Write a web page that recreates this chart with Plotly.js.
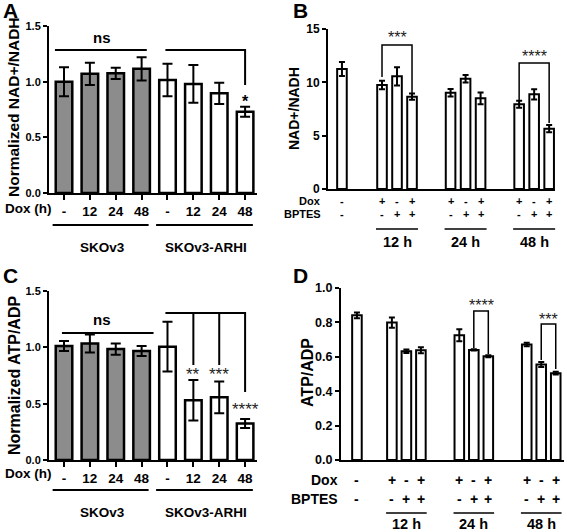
<!DOCTYPE html>
<html><head><meta charset="utf-8">
<script src="https://cdn.plot.ly/plotly-3.0.1.min.js"></script>
<style>html,body{margin:0;padding:0;background:#fff}#chart{width:567px;height:532px}</style>
</head><body><div id="chart"></div>
<script>
// ---------------- data ----------------
const doxHoursLabels = ['-', '12', '24', '48'];
const cellLines = ['SKOv3', 'SKOv3-ARHI'];
const nadSKOv3 = [1.00, 1.07, 1.075, 1.115];
const nadSKOv3Err = [0.13, 0.10, 0.05, 0.105];
const nadARHI = [1.015, 0.98, 0.895, 0.73];
const nadARHIErr = [0.145, 0.17, 0.095, 0.045];
const atpSKOv3 = [1.012, 1.035, 0.985, 0.967];
const atpSKOv3Err = [0.045, 0.08, 0.05, 0.045];
const atpARHI = [1.006, 0.53, 0.556, 0.325];
const atpARHIErr = [0.22, 0.18, 0.14, 0.04];

const doxRow = ['-', '+', '-', '+', '+', '-', '+', '+', '-', '+'];
const bptesRow = ['-', '-', '+', '+', '-', '+', '+', '-', '+', '+'];
const timeLabels = ['12 h', '24 h', '48 h'];
const nadBPTES = [11.25, 9.75, 10.56, 8.66, 9.03, 10.34, 8.5, 7.94, 8.875, 5.66];
const nadBPTESErr = [0.65, 0.4, 0.85, 0.3, 0.35, 0.35, 0.55, 0.33, 0.48, 0.34];
const atpBPTES = [0.841, 0.799, 0.632, 0.638, 0.725, 0.640, 0.603, 0.671, 0.555, 0.505];
const atpBPTESErr = [0.017, 0.03, 0.01, 0.017, 0.035, 0.004, 0.006, 0.01, 0.015, 0.008];

const sigA = ['ns', '*'];
const sigB = ['***', '****'];
const sigC = ['ns', '**', '***', '****'];
const sigD = ['****', '***'];

// ---------------- layout helpers ----------------
const W = 567, H = 532;
const PX = p => p / W, PY = p => 1 - p / H;
const FONT = 'Liberation Sans, Arial, Helvetica, sans-serif';
const panels = {
  A: {xa: 'x',  ya: 'y',  x: [49, 257],  y: [26, 193],  xr: [-0.58, 7.46], yr: [0, 1.5]},
  B: {xa: 'x2', ya: 'y2', x: [328, 555], y: [29, 189],  xr: [-0.93, 14.2], yr: [0, 15]},
  C: {xa: 'x3', ya: 'y3', x: [49, 257],  y: [291, 460], xr: [-0.58, 7.46], yr: [0, 1.5]},
  D: {xa: 'x4', ya: 'y4', x: [341, 564], y: [288, 460], xr: [-1.1, 14.28], yr: [0, 1]}
};
function xPaper(p, v) { const P = panels[p]; return PX(P.x[0] + (v - P.xr[0]) / (P.xr[1] - P.xr[0]) * (P.x[1] - P.x[0])); }
function yData(p, py) { const P = panels[p]; return P.yr[0] + (P.y[1] - py) / (P.y[1] - P.y[0]) * (P.yr[1] - P.yr[0]); }

// positions: A/C groups of 4 consecutive slots
const posSK = doxHoursLabels.map((_, i) => i);
const posARHI = doxHoursLabels.map((_, i) => i + doxHoursLabels.length);
// B/D: control bar then 3 groups of 3 with gaps
function groupPositions(firstGap, step) {
  const out = [0];
  timeLabels.forEach((_, g) => { for (let i = 0; i < 3; i++) out.push(firstGap + g * step + i); });
  return out;
}
const posB = groupPositions(2.67, 4.57);
const posD = groupPositions(2.41, 4.65);

// ---------------- traces ----------------
function barTrace(p, x, y, err, fill, width, lw, cap) {
  return {
    type: 'bar', x: x, y: y, xaxis: panels[p].xa, yaxis: panels[p].ya, width: width,
    marker: {color: fill, line: {color: '#000', width: lw}},
    error_y: {type: 'data', array: err, visible: true, color: '#000', thickness: 2, width: cap},
    showlegend: false, hoverinfo: 'skip'
  };
}
const GRAY = '#8c8c8c';
const traces = [
  barTrace('A', posSK, nadSKOv3, nadSKOv3Err, GRAY, 0.64, 2.5, 5),
  barTrace('A', posARHI, nadARHI, nadARHIErr, '#ffffff', 0.64, 2.5, 5),
  barTrace('B', posB, nadBPTES, nadBPTESErr, '#ffffff', 0.64, 2, 3),
  barTrace('C', posSK, atpSKOv3, atpSKOv3Err, GRAY, 0.64, 2.5, 5),
  barTrace('C', posARHI, atpARHI, atpARHIErr, '#ffffff', 0.64, 2.5, 5),
  barTrace('D', posD, atpBPTES, atpBPTESErr, '#ffffff', 0.66, 2, 3)
];

// ---------------- axes ----------------
const allPos = posSK.concat(posARHI);
const allDox = doxHoursLabels.concat(doxHoursLabels);
function xAxis(p, withTicks) {
  const P = panels[p];
  const ax = {
    domain: [PX(P.x[0]), PX(P.x[1])], range: P.xr, anchor: P.ya,
    showline: true, linecolor: '#000', linewidth: 2, showgrid: false, zeroline: false, fixedrange: true
  };
  if (withTicks) {
    Object.assign(ax, {tickmode: 'array', tickvals: allPos, ticktext: allDox, ticks: 'outside', ticklen: 5,
      tickwidth: 2, tickcolor: '#000', ticklabelstandoff: 0,
      tickfont: {family: FONT, size: 13.5, color: '#000', weight: 'bold'}});
  } else {
    Object.assign(ax, {ticks: '', showticklabels: false});
  }
  return ax;
}
function yAxis(p, dtick, fmt, fsize) {
  const P = panels[p];
  return {
    domain: [PY(P.y[1]), PY(P.y[0])], range: P.yr, anchor: P.xa, dtick: dtick, tick0: 0, tickformat: fmt,
    showline: true, linecolor: '#000', linewidth: 2, ticks: 'outside', ticklen: 4, tickwidth: 2, tickcolor: '#000',
    showgrid: false, zeroline: false, fixedrange: true,
    tickfont: {family: FONT, size: fsize, color: '#000', weight: 'bold'}
  };
}

// ---------------- annotations ----------------
const annotations = [];
function ann(text, xref, x, ypx, size, o) {
  o = o || {};
  annotations.push(Object.assign({
    text: text, xref: xref, x: x, yref: 'paper', y: PY(ypx), showarrow: false,
    xanchor: 'center', yanchor: 'middle',
    font: {family: FONT, size: size, color: o.color || '#000', weight: o.weight || 'bold'}
  }, o.extra || {}));
}
// panel letters
ann('A', 'paper', PX(1), 10, 21, {extra: {xanchor: 'left'}});
ann('B', 'paper', PX(291), 11, 21, {extra: {xanchor: 'left'}});
ann('C', 'paper', PX(1), 275, 21, {extra: {xanchor: 'left'}});
ann('D', 'paper', PX(291), 275, 21, {extra: {xanchor: 'left'}});
// y titles
ann('Normalized NAD+/NADH', 'paper', PX(14), 107, 15.5, {extra: {textangle: -90}});
ann('NAD+/NADH', 'paper', PX(294), 109, 14, {extra: {textangle: -90}});
ann('Normalized ATP/ADP', 'paper', PX(14), 376, 16, {extra: {textangle: -90}});
ann('ATP/ADP', 'paper', PX(307), 373, 16, {extra: {textangle: -90}});

// A / C row labels and group labels
[['A', 208, 247], ['C', 473, 512]].forEach(([p, rowY, grpY]) => {
  ann('Dox (h)', 'paper', PX(28), rowY, 13.5);
  [posSK, posARHI].forEach((pos, g) => {
    const mid = (pos[0] + pos[pos.length - 1]) / 2;
    ann(cellLines[g], panels[p].xa, mid, grpY, 13.5);
  });
});

// B / D treatment rows
[['B', posB, 201, 214, 242, 323, 11, 14.5], ['D', posD, 480, 499, 524, 340, 14, 14.5]].forEach(
  ([p, pos, doxY, bY, tY, labelRight, fs, tfs]) => {
    ann('Dox', 'paper', PX(labelRight), doxY, fs, {extra: {xanchor: 'right'}});
    ann('BPTES', 'paper', PX(labelRight), bY, fs, {extra: {xanchor: 'right'}});
    pos.forEach((x, i) => {
      ann(doxRow[i], panels[p].xa, x, doxY, fs);
      ann(bptesRow[i], panels[p].xa, x, bY, fs);
    });
    timeLabels.forEach((t, g) => ann(t, panels[p].xa, pos[1 + g * 3 + 1], tY, tfs));
  });

// significance labels
ann(sigA[0], 'x', 1.46, 37, 15);
ann(sigA[1], 'x', posARHI[3], 101, 16);
ann(sigB[0], 'x2', posB[2], 38, 16, {weight: 'normal', color: '#222'});
ann(sigB[1], 'x2', (posB[7] + posB[9]) / 2, 56, 16, {weight: 'normal', color: '#222'});
ann(sigC[0], 'x3', 1.46, 319, 15);
ann(sigC[1], 'x3', posARHI[1], 374, 17, {weight: 'normal', color: '#222'});
ann(sigC[2], 'x3', posARHI[2], 374, 17, {weight: 'normal', color: '#222'});
ann(sigC[3], 'x3', posARHI[3], 409, 17, {weight: 'normal', color: '#222'});
ann(sigD[0], 'x4', (posD[5] + posD[6]) / 2, 305, 16, {weight: 'normal', color: '#222'});
ann(sigD[1], 'x4', (posD[8] + posD[9]) / 2, 319, 16, {weight: 'normal', color: '#222'});

// ---------------- shapes ----------------
const shapes = [];
function pathShape(p, pts, w) {
  let d = '';
  pts.forEach(seg => seg.forEach((pt, i) => {
    d += (i === 0 ? 'M' : 'L') + pt[0] + ',' + yData(p, pt[1]) + ' ';
  }));
  shapes.push({type: 'path', xref: panels[p].xa, yref: panels[p].ya, path: d.trim(),
    line: {color: '#000', width: w}});
}
function underline(p, x0, x1, ypx, w) {
  shapes.push({type: 'line', xref: 'paper', yref: 'paper', x0: xPaper(p, x0), x1: xPaper(p, x1),
    y0: PY(ypx), y1: PY(ypx), line: {color: '#000', width: w}});
}
// A
pathShape('A', [[[-0.35, 50], [3.2, 50]]], 2);
pathShape('A', [[[3.92, 50], [posARHI[3], 50], [posARHI[3], 85]]], 2);
// C
pathShape('C', [[[-0.08, 333], [3.46, 333]]], 2);
pathShape('C', [[[3.92, 313], [posARHI[3], 313], [posARHI[3], 392]],
                [[posARHI[1], 313], [posARHI[1], 365]],
                [[posARHI[2], 313], [posARHI[2], 365]]], 2);
// B
pathShape('B', [[[posB[1], 77], [posB[1], 45], [posB[3], 45], [posB[3], 93]]], 1.5);
pathShape('B', [[[posB[7], 100], [posB[7], 63], [posB[9], 63], [posB[9], 123]]], 1.5);
// D
pathShape('D', [[[posD[5], 348], [posD[5], 311], [posD[6], 311], [posD[6], 354]]], 1.5);
pathShape('D', [[[posD[8], 360], [posD[8], 324], [posD[9], 324], [posD[9], 369]]], 1.5);
// underlines A / C
[['A', 225], ['C', 490]].forEach(([p, y]) => {
  underline(p, posSK[0] - 0.44, posSK[3] + 0.27, y, 1.8);
  underline(p, posARHI[0] - 0.44, posARHI[3] + 0.3, y, 1.8);
});
// underlines B / D
[['B', posB, 229], ['D', posD, 513]].forEach(([p, pos, y]) => {
  timeLabels.forEach((_, g) => underline(p, pos[1 + g * 3] - 0.4, pos[3 + g * 3] + 0.4, y, 1.5));
});

const layout = {
  width: W, height: H, margin: {l: 0, r: 0, t: 0, b: 0},
  paper_bgcolor: '#fff', plot_bgcolor: 'rgba(0,0,0,0)', showlegend: false, bargap: 0,
  font: {family: FONT, color: '#000'},
  xaxis: xAxis('A', true), yaxis: yAxis('A', 0.5, '.1f', 11),
  xaxis2: xAxis('B', false), yaxis2: yAxis('B', 5, 'd', 12),
  xaxis3: xAxis('C', true), yaxis3: yAxis('C', 0.5, '.1f', 11),
  xaxis4: xAxis('D', false), yaxis4: yAxis('D', 0.2, '.1f', 12.5),
  annotations: annotations, shapes: shapes
};
Plotly.newPlot('chart', traces, layout, {displayModeBar: false, staticPlot: true});
</script></body></html>
